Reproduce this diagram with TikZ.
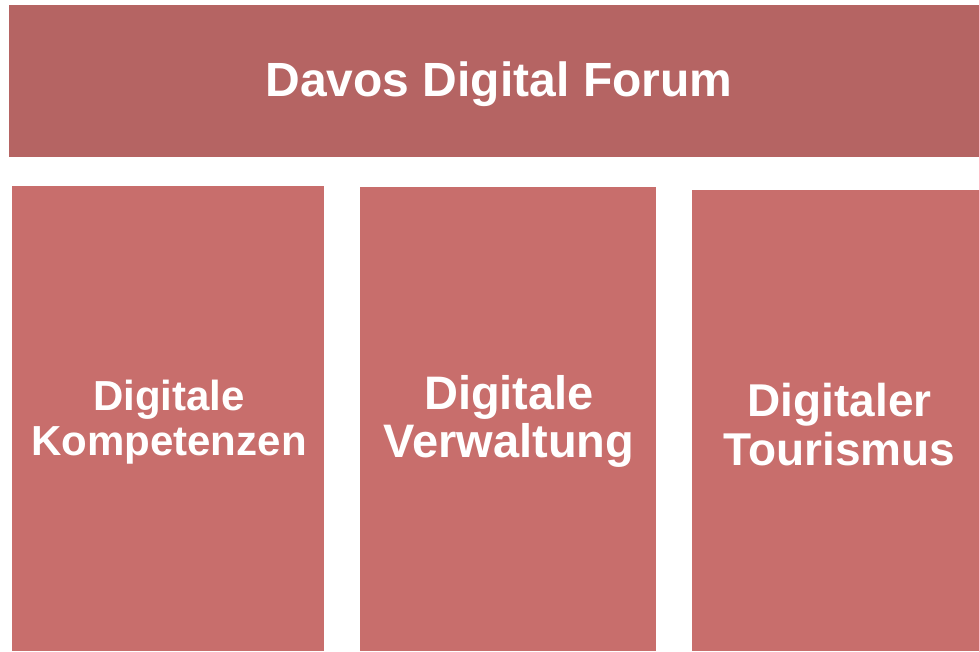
\documentclass[tikz,border=0pt]{standalone}
\usepackage{fontspec}
\setmainfont{Liberation Sans}
\usetikzlibrary{positioning}
\definecolor{bannerred}{HTML}{B56463}
\definecolor{tilered}{HTML}{C86E6C}

\begin{document}
\begin{tikzpicture}[x=1pt,y=-1pt,
        banner/.style={fill=bannerred,inner sep=0pt},
        tile/.style={fill=tilered,inner sep=0pt},
        caption/.style={inner sep=0pt,text=white,align=center}]

    \useasboundingbox (0,0) rectangle (979,651);

    \node[banner,minimum width=970pt,minimum height=152pt] (forum) at (494,81) {};
    \node[caption,font=\bfseries\fontsize{48}{52}\selectfont] (forumtext)
        at ([shift={(5,3)}]forum.center) {Davos Digital Forum};

    \node[tile,minimum width=312pt,minimum height=465pt] (komp) at (168,418.5) {};
    \node[tile,minimum width=296pt,minimum height=464pt] (verw) at (508,419) {};
    \node[tile,minimum width=287pt,minimum height=461pt] (tour) at (835.5,420.5) {};

    \node[caption,font=\bfseries\fontsize{42}{45}\selectfont] (komptext)
        at ([shift={(1,4)}]komp.center) {Digitale\\Kompetenzen};
    \node[caption,font=\bfseries\fontsize{47}{48}\selectfont] (verwtext)
        at ([shift={(1,2)}]verw.center) {Digitale\\Verwaltung};
    \node[caption,font=\bfseries\fontsize{46}{49}\selectfont] (tourtext)
        at ([shift={(4,4)}]tour.center) {Digitaler\\Tourismus};

\end{tikzpicture}
\end{document}
